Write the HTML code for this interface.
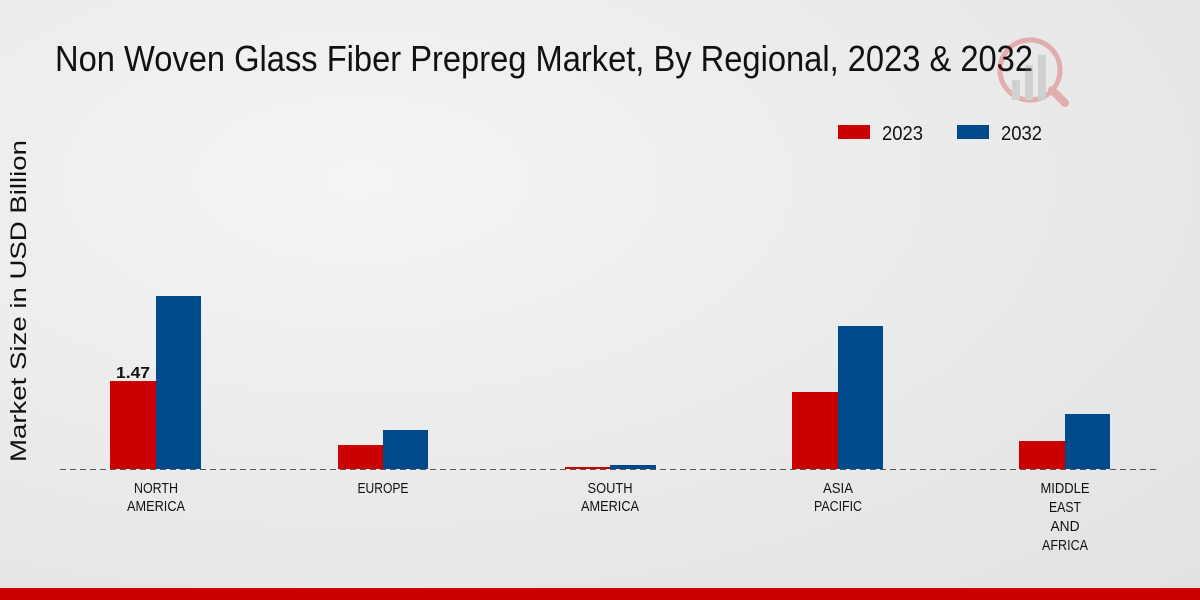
<!DOCTYPE html>
<html><head><meta charset="utf-8">
<style>
html,body{margin:0;padding:0;}
body{width:1200px;height:600px;overflow:hidden;background:radial-gradient(ellipse at 30% 30%,#f4f4f4 0%,#e9e9e9 60%,#e2e2e2 100%);font-family:"Liberation Sans",sans-serif;position:relative;}
svg{position:absolute;left:0;top:0;}
</style></head><body>
<svg width="1200" height="600" xmlns="http://www.w3.org/2000/svg" font-family="Liberation Sans, sans-serif">
<text x="55" y="71" font-size="36" fill="#111" textLength="978" lengthAdjust="spacingAndGlyphs">Non Woven Glass Fiber Prepreg Market, By Regional, 2023 &amp; 2032</text>
<g opacity="0.25">
<circle cx="1030" cy="70" r="30" fill="none" stroke="#c00" stroke-width="5"/>
<rect x="1012" y="80" width="8" height="20" fill="#888"/>
<rect x="1025" y="65" width="8" height="35" fill="#888"/>
<rect x="1038" y="55" width="8" height="45" fill="#888"/>
<line x1="1052" y1="90" x2="1065" y2="103" stroke="#c00" stroke-width="8" stroke-linecap="round"/>
</g>
<rect x="838" y="125" width="32" height="14" fill="#cc0000"/>
<text x="882" y="140" font-size="20" fill="#111" textLength="41" lengthAdjust="spacingAndGlyphs">2023</text>
<rect x="957" y="125" width="32" height="14" fill="#004a8c"/>
<text x="1001" y="140" font-size="20" fill="#111" textLength="41" lengthAdjust="spacingAndGlyphs">2032</text>
<text transform="translate(26,301) rotate(-90)" text-anchor="middle" font-size="22" fill="#111" textLength="322" lengthAdjust="spacingAndGlyphs">Market Size in USD Billion</text>
<g fill="#cc0000">
<rect x="110" y="381" width="46" height="88"/>
<rect x="338" y="445" width="45" height="24"/>
<rect x="565" y="467" width="45" height="2"/>
<rect x="792" y="392" width="46" height="77"/>
<rect x="1019" y="441" width="46" height="28"/>
</g>
<g fill="#004a8c">
<rect x="156" y="296" width="45" height="173"/>
<rect x="383" y="430" width="45" height="39"/>
<rect x="610" y="465" width="46" height="4"/>
<rect x="838" y="326" width="45" height="143"/>
<rect x="1065" y="414" width="45" height="55"/>
</g>
<line x1="60" y1="469.5" x2="1160" y2="469.5" stroke="#555" stroke-width="1" stroke-dasharray="6,4"/>
<text x="116" y="378" font-size="16" font-weight="bold" fill="#111" textLength="34" lengthAdjust="spacingAndGlyphs">1.47</text>
<g font-size="15" fill="#111" text-anchor="middle">
<text x="156" y="493" textLength="44" lengthAdjust="spacingAndGlyphs">NORTH</text><text x="156" y="511" textLength="58" lengthAdjust="spacingAndGlyphs">AMERICA</text>
<text x="383" y="493" textLength="51" lengthAdjust="spacingAndGlyphs">EUROPE</text>
<text x="610" y="493" textLength="45" lengthAdjust="spacingAndGlyphs">SOUTH</text><text x="610" y="511" textLength="58" lengthAdjust="spacingAndGlyphs">AMERICA</text>
<text x="838" y="493" textLength="30" lengthAdjust="spacingAndGlyphs">ASIA</text><text x="838" y="511" textLength="48" lengthAdjust="spacingAndGlyphs">PACIFIC</text>
<text x="1065" y="493" textLength="49" lengthAdjust="spacingAndGlyphs">MIDDLE</text><text x="1065" y="512" textLength="32" lengthAdjust="spacingAndGlyphs">EAST</text><text x="1065" y="531" textLength="29" lengthAdjust="spacingAndGlyphs">AND</text><text x="1065" y="550" textLength="46" lengthAdjust="spacingAndGlyphs">AFRICA</text>
</g>
<rect x="0" y="588" width="1200" height="12" fill="#cc0000"/>
</svg>
</body></html>
